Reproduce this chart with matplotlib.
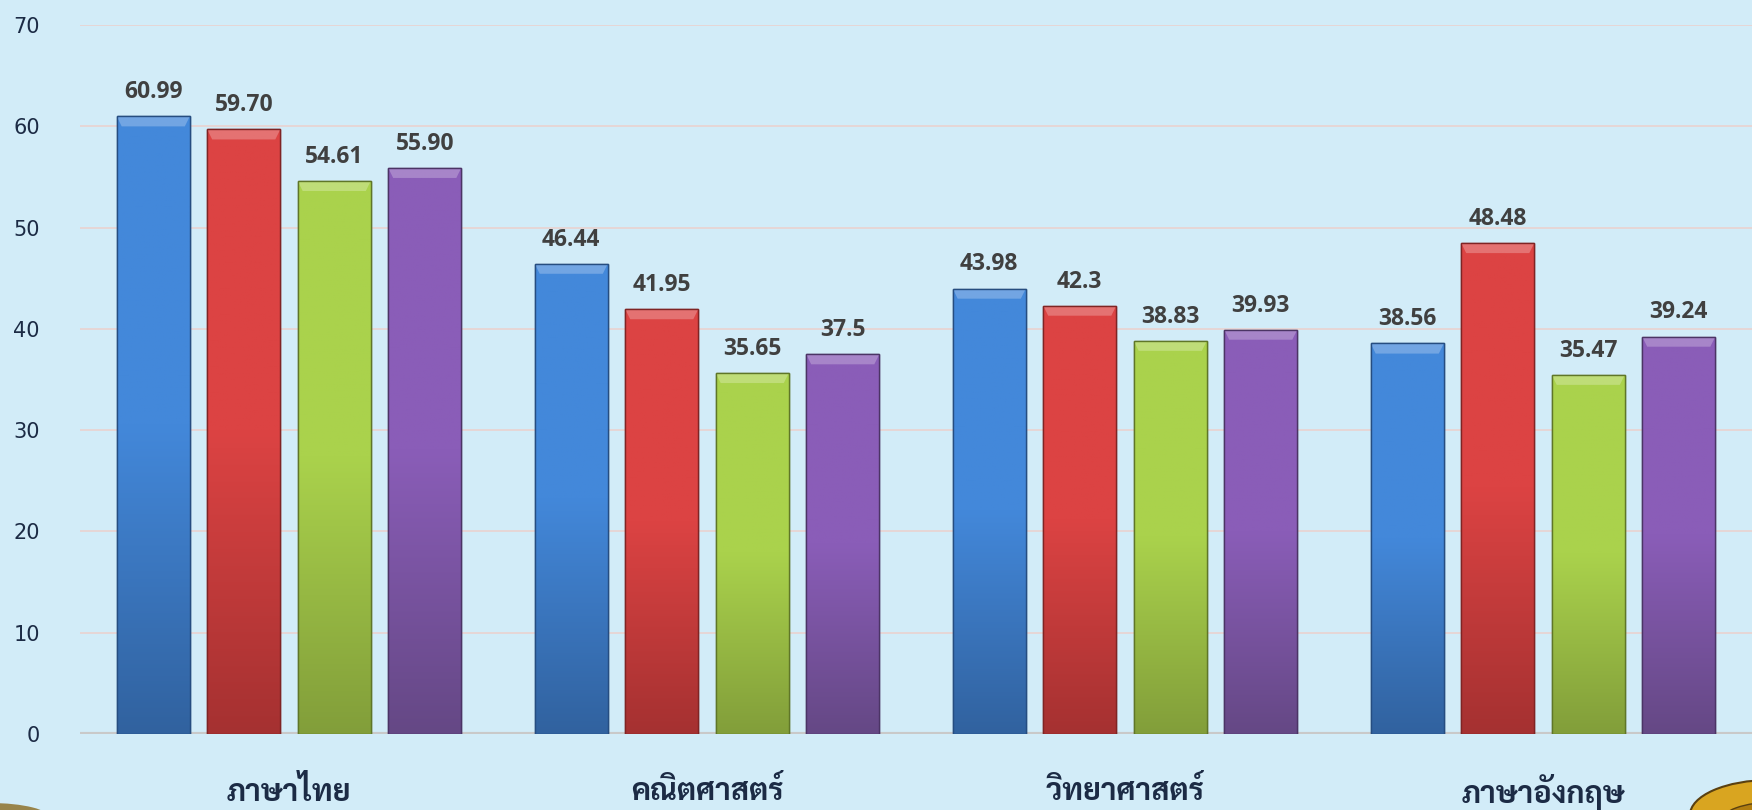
import numpy as np
import matplotlib
matplotlib.use("Agg")
import matplotlib.pyplot as plt
from matplotlib import font_manager
from matplotlib.ft2font import FT2Font
from matplotlib.colors import LinearSegmentedColormap
from matplotlib.patches import Ellipse

categories = ["ภาษาไทย", "คณิตศาสตร์", "วิทยาศาสตร์", "ภาษาอังกฤษ"]
series1 = [60.99, 46.44, 43.98, 38.56]
series2 = [59.70, 41.95, 42.3, 48.48]
series3 = [54.61, 35.65, 38.83, 35.47]
series4 = [55.90, 37.5, 39.93, 39.24]
labels1 = ["60.99", "46.44", "43.98", "38.56"]
labels2 = ["59.70", "41.95", "42.3", "48.48"]
labels3 = ["54.61", "35.65", "38.83", "35.47"]
labels4 = ["55.90", "37.5", "39.93", "39.24"]
yticks = [0, 10, 20, 30, 40, 50, 60, 70]

# find a font with Thai glyphs that has a bold weight (prefer looped sans)
weights = {}
for f in font_manager.fontManager.ttflist:
    try:
        cm = FT2Font(f.fname).get_charmap()
        if 0x0E20 in cm and 0x0E44 in cm:
            w = f.weight if isinstance(f.weight, int) else 700 if "bold" in str(f.weight) else 400
            weights.setdefault(f.name, set()).add(w)
    except Exception:
        pass
bold_names = sorted(n for n, ws in weights.items() if max(ws) >= 600)
thai_font = None
for cand in ["Tahoma", "Leelawadee UI", "Leelawadee", "Noto Sans Thai Looped",
             "Sarabun", "Loma", "Garuda", "Noto Sans Thai"]:
    if cand in bold_names:
        thai_font = cand
        break
if thai_font is None:
    pool = bold_names or sorted(weights)
    if pool:
        pref = [n for n in pool if "Thai" in n]
        thai_font = pref[0] if pref else pool[0]
thai_family = [thai_font, "DejaVu Sans"] if thai_font else ["DejaVu Sans"]

fig = plt.figure(figsize=(17.52, 8.10), dpi=100)
bg = "#d2ecf8"
fig.patch.set_facecolor(bg)
ax = fig.add_axes([80/1752, 76/810, 1 - 80/1752, (734-25)/810])
ax.set_facecolor(bg)

x = np.arange(len(categories))
pitch = 0.2165
width = 0.175
series = [series1, series2, series3, series4]
labels = [labels1, labels2, labels3, labels4]
tops = ["#4388da", "#dc4343", "#aad24c", "#8a5db8"]
bots = ["#31629f", "#a53131", "#829e3a", "#654885"]
edges = ["#264d80", "#7f2424", "#5f7628", "#4b3465"]

for i, (vals, labs) in enumerate(zip(series, labels)):
    pos = x + (i - 1.5) * pitch
    bars = ax.bar(pos, vals, width=width, color=tops[i], edgecolor=edges[i],
                  linewidth=1.0, zorder=3)
    cmap = LinearSegmentedColormap.from_list("g%d" % i, [bots[i], tops[i], tops[i]])
    for b, v, lab in zip(bars, vals, labs):
        x0 = b.get_x()
        im = ax.imshow(np.linspace(0, 1, 256).reshape(-1, 1), cmap=cmap,
                       extent=[x0, x0 + width, 0, v], origin="lower",
                       aspect="auto", zorder=3.5)
        im.set_clip_path(b)
        # bevel highlight at the top
        bh = 1.0
        ax.fill([x0, x0 + width, x0 + width - 0.012, x0 + 0.012],
                [v, v, v - bh, v - bh], color="white", alpha=0.25,
                lw=0, zorder=3.8)
        ax.add_patch(plt.Rectangle((x0, 0), width, v, fill=False,
                                   edgecolor=edges[i], lw=1.0, zorder=4))
        ax.annotate(lab, (b.get_x() + width / 2, v), xytext=(0, 13),
                    textcoords="offset points", ha="center", va="baseline",
                    fontsize=16.5, fontweight="bold", color="#404040",
                    family=["Open Sans", "DejaVu Sans"], zorder=5)

ax.set_xlim(-0.5, 3.5)
ax.set_ylim(0, 70)
ax.set_yticks(yticks)
ax.set_yticklabels([str(t) for t in yticks], fontsize=15, color="#1c2b45",
                   family=["DejaVu Sans"])
ax.tick_params(axis="y", length=0, pad=29)
ax.set_xticks([])
for t in yticks[1:]:
    ax.axhline(t, color="#e6d6d6", lw=1.4, zorder=1)
ax.axhline(0, color="#c9c9c9", lw=3, zorder=2)
for s in ax.spines.values():
    s.set_visible(False)

for xi, c in zip(x, categories):
    ax.text(xi, -5.75, c, ha="center", va="center", fontsize=22,
            fontweight="bold", color="#1c2b45", family=thai_family,
            clip_on=False)

# decorative gold ornaments in the bottom corners
W, H = 1752, 810
fig.patches.append(Ellipse((1770 / W, 1 - 815 / H), 160 / W, 70 / H,
                           transform=fig.transFigure, facecolor="#d9a520",
                           edgecolor="#5a4010", lw=1.5, zorder=0))
fig.patches.append(Ellipse((1775 / W, 1 - 822 / H), 110 / W, 40 / H,
                           transform=fig.transFigure, facecolor="#b07d10",
                           edgecolor="#5a4010", lw=1.0, zorder=0))
fig.patches.append(Ellipse((-10 / W, 1 - 818 / H), 120 / W, 30 / H,
                           transform=fig.transFigure, facecolor="#8a6a20",
                           edgecolor="none", alpha=0.8, zorder=0))

fig.savefig("out.png", dpi=100, facecolor=bg)
